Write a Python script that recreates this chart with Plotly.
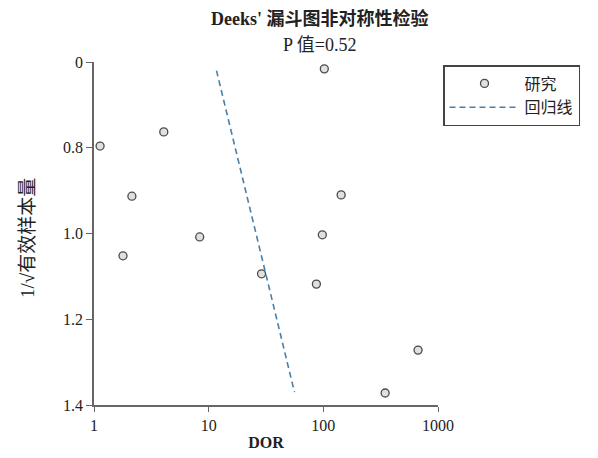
import plotly.graph_objects as go

# Study points
dor = [1.13, 4.06, 2.14, 1.79, 8.35, 28.9, 102, 143, 98, 87, 670, 346]
inv_sqrt_ess = [0.796, 0.763, 0.913, 1.052, 1.008, 1.094, 0.616, 0.910, 1.003, 1.118, 1.272, 1.372]

# Regression line endpoints
reg_x = [11.7, 56]
reg_y = [0.62, 1.37]

y_tickvals = [0.6, 0.8, 1.0, 1.2, 1.4]
y_ticktext = ["0", "0.8", "1.0", "1.2", "1.4"]
x_tickvals = [1, 10, 100, 1000]
x_ticktext = ["1", "10", "100", "1000"]

FONT = "Liberation Serif, Noto Sans CJK SC, serif"
# page body has an 8px margin, so the figure is slightly smaller
W, H = 590, 450

fig = go.Figure()
fig.add_trace(go.Scatter(
    x=dor, y=inv_sqrt_ess, mode="markers", name="研究", legendgroup="a",
    marker=dict(symbol="circle", size=8, color="#e0e0e0",
                line=dict(color="#4a4a4a", width=1.3)),
))
fig.add_trace(go.Scatter(
    x=reg_x, y=reg_y, mode="lines", name="回归线", legendgroup="b",
    line=dict(color="#4a7fa8", width=1.6, dash="6px,4px"),
))

fig.update_layout(
    width=W, height=H,
    margin=dict(l=86, r=160, t=54, b=53, autoexpand=False),
    paper_bgcolor="white", plot_bgcolor="white",
    font=dict(family=FONT, size=16, color="#222"),
    showlegend=True,
    legend=dict(
        x=(443-94)/344, xanchor="left", y=1 - (65-62)/343, yanchor="top",
        bordercolor="#444", borderwidth=1.5, bgcolor="white",
        font=dict(size=16, family=FONT),
        itemwidth=70, entrywidth=72, traceorder="grouped", tracegroupgap=0,
    ),
    xaxis=dict(
        type="log", range=[0, 3], automargin=False,
        tickvals=x_tickvals, ticktext=x_ticktext,
        showgrid=False, zeroline=False,
        showline=True, linecolor="#666", linewidth=1.5,
        ticks="outside", ticklen=5, tickcolor="#666",
        tickfont=dict(size=16),
        title=dict(text="<b>DOR</b>", standoff=4, font=dict(size=16)),
    ),
    yaxis=dict(
        range=[1.4, 0.6], automargin=False,
        tickvals=y_tickvals, ticktext=y_ticktext,
        showgrid=False, zeroline=False,
        showline=True, linecolor="#666", linewidth=1.5,
        ticks="outside", ticklen=6, tickcolor="#666",
        tickfont=dict(size=16),
    ),
    annotations=[
        dict(text="<b>Deeks' 漏斗图非对称性检验</b>", xref="paper", yref="paper",
             x=(320-94)/344, y=1 + (62-18)/343, xanchor="center", yanchor="middle",
             showarrow=False, font=dict(size=18, family=FONT, color="#222")),
        dict(text="P 值=0.52", xref="paper", yref="paper",
             x=(320-94)/344, y=1 + (62-45)/343, xanchor="center", yanchor="middle",
             showarrow=False, font=dict(size=18, family=FONT, color="#222")),
        dict(text="1/√有效样本量", xref="paper", yref="paper",
             x=-(94-27)/344, y=1 - (238-62)/343, xanchor="center", yanchor="middle",
             textangle=-90, showarrow=False,
             font=dict(size=19, family=FONT, color="#222")),
    ],
)

fig.write_html("out.html")
